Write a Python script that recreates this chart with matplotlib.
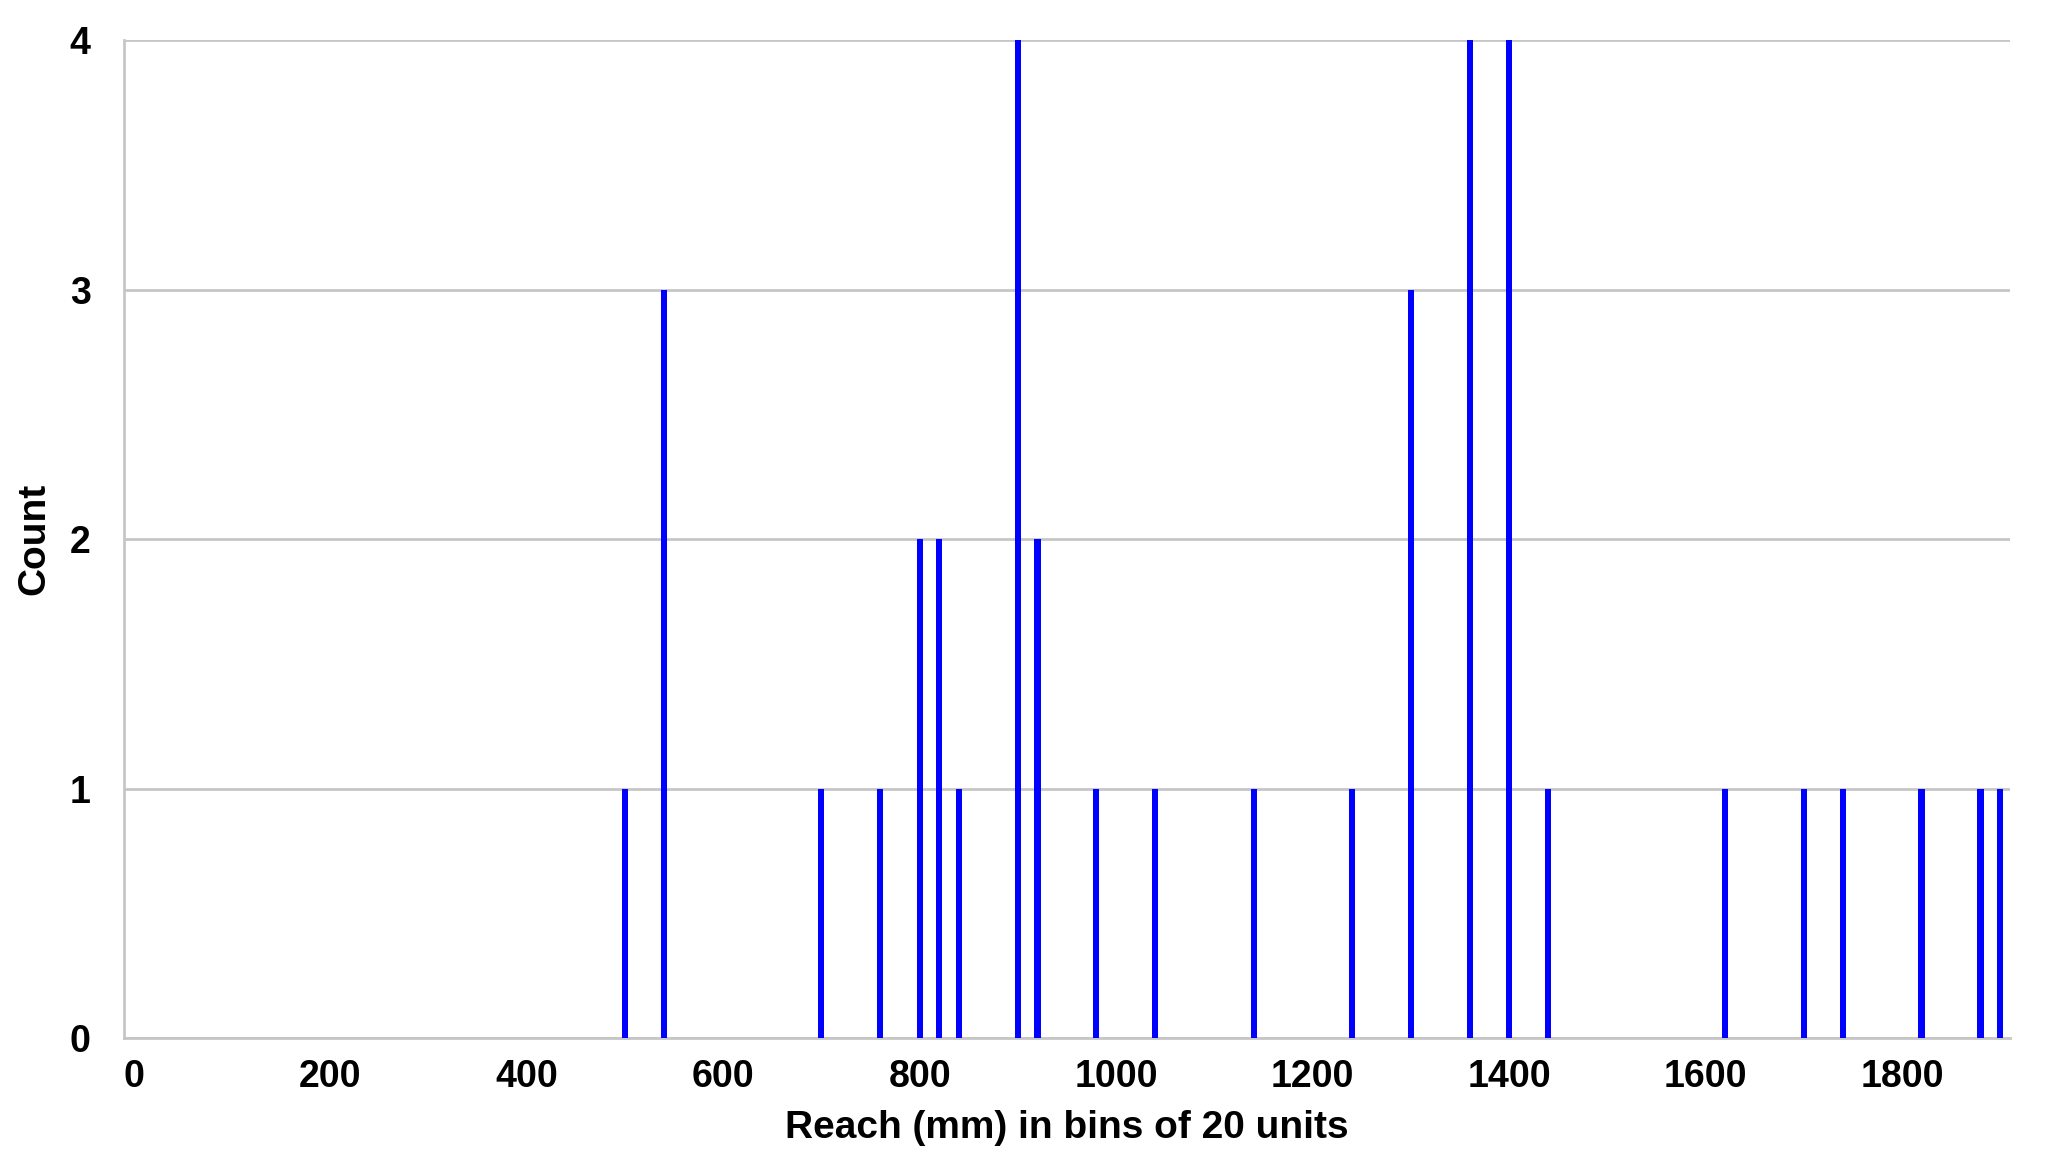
import matplotlib
matplotlib.use("Agg")
import matplotlib.pyplot as plt

# reach bins (mm) and the counts
reach_bins = [500, 540, 700, 760, 800, 820, 840, 900, 920, 980, 1040, 1140,
              1240, 1300, 1360, 1400, 1440, 1620, 1700, 1740, 1820, 1880, 1900]
counts = [1, 3, 1, 1, 2, 2, 1, 4, 2, 1, 1, 1,
          1, 3, 4, 4, 1, 1, 1, 1, 1, 1, 1]

x_ticks = list(range(0, 1801, 200))
y_ticks = [0, 1, 2, 3, 4]

plt.rcParams['font.family'] = ['Liberation Sans', 'DejaVu Sans']
plt.rcParams['font.weight'] = 'bold'

fig = plt.figure(figsize=(20.6, 11.64), dpi=100)
ax = fig.add_axes([0.0602, 0.1082, 0.9155, 0.8574])

grid_col = "#c6c6c6"
ax.set_axisbelow(True)
ax.yaxis.grid(True, color=grid_col, linewidth=2.0)
ax.bar(reach_bins, counts, width=6.2, color="#0000ff", linewidth=0, zorder=3)

ax.set_xlim(-10, 1910)
ax.set_ylim(0, 4)
ax.set_xticks(x_ticks)
ax.set_yticks(y_ticks)

for side in ["top", "right"]:
    ax.spines[side].set_visible(False)
for side in ["left", "bottom"]:
    ax.spines[side].set_color(grid_col)
    ax.spines[side].set_linewidth(2.0)

ax.tick_params(axis="both", length=0, labelsize=27)
ax.tick_params(axis="x", pad=15)
ax.tick_params(axis="y", pad=24)
for lab in ax.get_xticklabels() + ax.get_yticklabels():
    lab.set_fontweight("bold")

ax.set_xlabel("Reach (mm) in bins of 20 units", fontsize=28, fontweight="bold")
ax.set_ylabel("Count", fontsize=28, fontweight="bold")
ax.xaxis.set_label_coords(0.5, -0.072)
ax.yaxis.set_label_coords(-0.038, 0.5)

fig.savefig("out.png", dpi=100, facecolor="white")
